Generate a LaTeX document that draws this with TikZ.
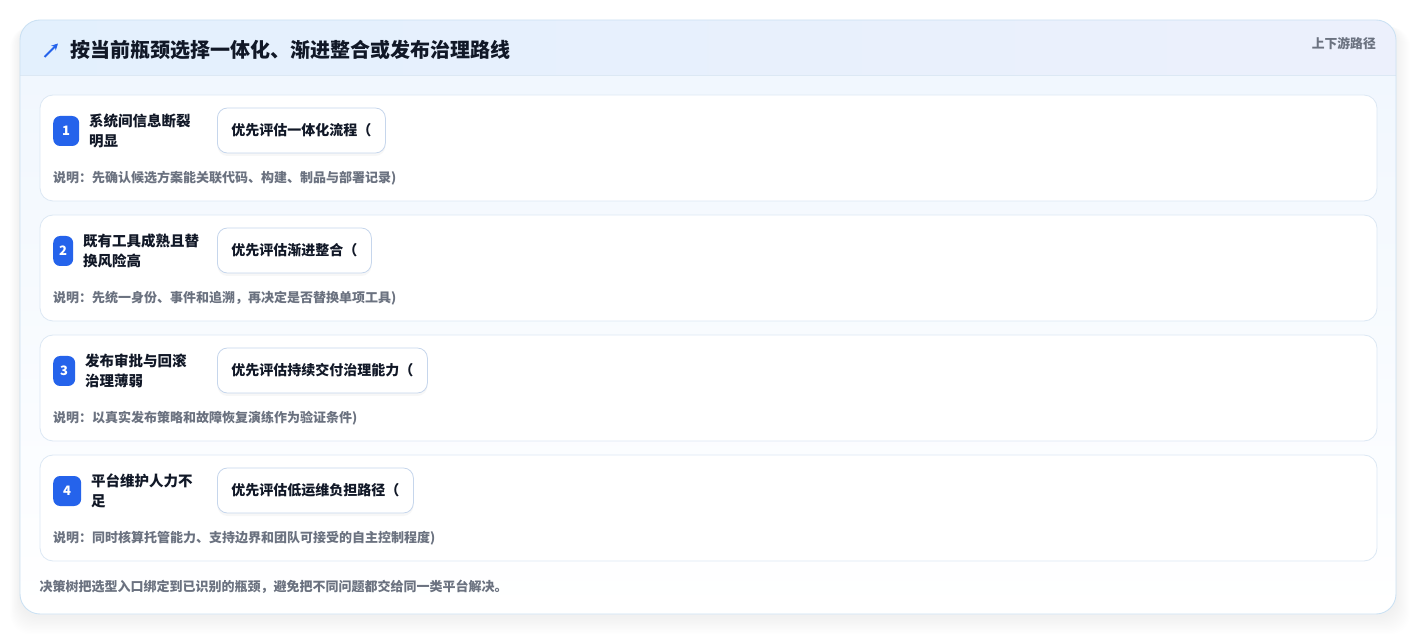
\documentclass[tikz,border=0pt]{standalone}
\usepackage{fontspec}
\setmainfont{Noto Sans CJK SC}
\usetikzlibrary{positioning, shadows, arrows.meta}
\definecolor{badgeblue}{HTML}{2563EB}
\definecolor{inktext}{HTML}{111827}
\definecolor{mutetext}{HTML}{6B7280}
\definecolor{cardline}{HTML}{DCE8F4}
\definecolor{outerline}{HTML}{CBE1F3}
\definecolor{optline}{HTML}{C6D6EC}
\definecolor{headleft}{HTML}{E3F0FD}
\definecolor{headright}{HTML}{ECF0FC}
\definecolor{bodytop}{HTML}{F1F7FE}

\begin{document}
\begin{tikzpicture}[x=1pt, y=-1pt,
  rowcard/.style={draw=cardline, fill=white, line width=0.8pt, rounded corners=13pt},
  badge/.style={fill=badgeblue, rounded corners=7pt, text=white, inner sep=0pt,
    minimum height=30pt, font=\bfseries\fontsize{13}{13}\selectfont},
  reason/.style={inner sep=0pt, align=left, text=inktext,
    font=\bfseries\fontsize{14.5}{20}\selectfont},
  choice/.style={draw=optline, fill=white, line width=0.8pt, rounded corners=10pt,
    inner xsep=14pt, inner ysep=0pt, minimum height=45pt, text=inktext,
    font=\bfseries\fontsize{14}{14}\selectfont,
    drop shadow={opacity=0.06, shadow xshift=0pt, shadow yshift=-3pt}},
  note/.style={inner sep=0pt, text=mutetext, font=\bfseries\fontsize{13}{13}\selectfont}]
  \useasboundingbox (0,0) rectangle (1417,636);
  % soft shadow of the panel
  \foreach \k in {1,...,14}
    \fill[black, opacity=0.0045, rounded corners=20pt]
      (20-0.7*\k,24+0.2*\k) rectangle (1396+\k,616+1.3*\k);
  % panel
  \begin{scope}
    \clip[rounded corners=20pt] (20,20) rectangle (1396,614);
    \shade[top color=bodytop, bottom color=white] (20,75) rectangle (1396,614);
    \shade[left color=headleft, right color=headright] (20,20) rectangle (1396,75);
    \draw[cardline, line width=0.8pt] (20,75) -- (1396,75);
  \end{scope}
  \draw[outerline, line width=0.9pt, rounded corners=20pt] (20,20) rectangle (1396,614);
  % header
  \coordinate (icon tail) at (44.5,57);
  \coordinate (icon head) at (58,43.5);
  \draw[badgeblue, line width=1.8pt, -{Stealth[length=6.5pt, width=6.5pt]}] (icon tail) -- (icon head);
  \node[anchor=west, inner sep=0pt, text=inktext, font=\bfseries\fontsize{20}{20}\selectfont]
    (title) at (70,50) {按当前瓶颈选择一体化、渐进整合或发布治理路线};
  \node[anchor=east, inner sep=0pt, text=mutetext, font=\bfseries\fontsize{12.8}{12.8}\selectfont]
    (tag) at (1376,44) {上下游路径};
  % rows
  \foreach \i/\bw/\la/\lb/\opt/\desc in {
    1/26/系统间信息断裂/明显/优先评估一体化流程（/说明：先确认候选方案能关联代码、构建、制品与部署记录),
    2/20/既有工具成熟且替/换风险高/优先评估渐进整合（/说明：先统一身份、事件和追溯，再决定是否替换单项工具),
    3/22/发布审批与回滚/治理薄弱/优先评估持续交付治理能力（/说明：以真实发布策略和故障恢复演练作为验证条件),
    4/28/平台维护人力不/足/优先评估低运维负担路径（/说明：同时核算托管能力、支持边界和团队可接受的自主控制程度)}
  {
    \pgfmathsetmacro{\top}{95+120*(\i-1)}
    \draw[rowcard] (40,\top) rectangle (1377,\top+106);
    \node[badge, minimum width=\bw pt, anchor=west] (b\i) at (53,\top+36) {\i};
    \node[reason, right=9.5pt of b\i] (l\i) {\la\\\lb};
    \node[choice, anchor=west] (o\i) at (217,\top+35.5) {\opt};
    \node[note, anchor=west] (d\i) at (53,\top+83) {\desc};
  }
  % footer
  \node[note, anchor=west] (foot) at (39.5,586.5)
    {决策树把选型入口绑定到已识别的瓶颈，避免把不同问题都交给同一类平台解决。};
\end{tikzpicture}
\end{document}
